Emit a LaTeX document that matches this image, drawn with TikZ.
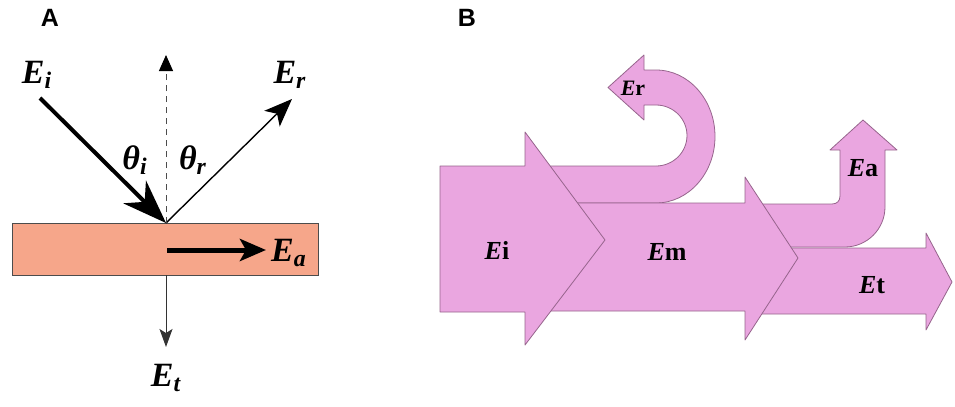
\documentclass[tikz,border=0pt]{standalone}
\usepackage{fontspec}
\setmainfont{Liberation Serif}
\newfontfamily\panelfont{Liberation Sans}
\usetikzlibrary{arrows.meta}
\definecolor{slabfill}{RGB}{246,166,138}
\definecolor{flowfill}{RGB}{234,166,224}
\definecolor{flowline}{RGB}{150,100,140}

\begin{document}
\begin{tikzpicture}[x=0.5pt,y=-0.5pt,
  panel/.style={font=\panelfont\bfseries\fontsize{12.5}{14}\selectfont,inner sep=0pt},
  lab/.style={font=\fontsize{17}{19}\selectfont\bfseries\itshape,inner sep=0pt},
  flow/.style={fill=flowfill,draw=flowline,line width=0.4pt,line join=round},
  flowlab/.style={font=\fontsize{13}{15}\selectfont\bfseries,inner sep=0pt}]
\useasboundingbox (0,0) rectangle (955,407);
% panel A
\node[panel] (labA) at (50,18) {A};
\draw[draw=black!70,fill=slabfill,line width=0.5pt] (12,223) rectangle (318,275);
\coordinate (hit) at (166,223);
\coordinate (inc) at (40,98);
\coordinate (refl) at (292,99);
\coordinate (norm) at (166,55);
\coordinate (absS) at (167,250);
\coordinate (absE) at (266,250);
\coordinate (trS) at (166,275);
\coordinate (trE) at (166,347);
\draw[-{Stealth[length=22pt,width=16pt,inset=7pt]},line width=2pt] (inc) -- (hit);
\draw[-{Stealth[length=14pt,width=11pt,inset=3.5pt]},line width=0.7pt] (hit) -- (refl);
\draw[black!70,line width=0.5pt,dash pattern=on 3pt off 2.5pt,-{Triangle[length=8pt,width=7pt,black]}] (hit) -- (norm);
\draw[-{Stealth[length=13pt,width=11pt,inset=3pt]},line width=2.5pt] (absS) -- (absE);
\draw[black!80,line width=0.5pt,-{Stealth[length=9pt,width=6.5pt,inset=2pt]}] (trS) -- (trE);
\node[lab] (Ei) at (37,75) {E\textsubscript{i}};
\node[lab] (Er) at (290,75) {E\textsubscript{r}};
\node[lab] (thi) at (135,160) {θ\textsubscript{i}};
\node[lab] (thr) at (193,160) {θ\textsubscript{r}};
\node[lab] (Ea) at (289,253) {E\textsubscript{a}};
\node[lab] (Et) at (166,378) {E\textsubscript{t}};
% panel B
\node[panel] (labB) at (467,18) {B};
\draw[flow] (752,248) -- (926,248) -- (926,233) -- (952,282) -- (926,330) -- (926,314) -- (752,314) -- cycle;
\draw[flow] (700,247) -- (845,247) .. controls (867,247) and (885,229) .. (885,207)
  -- (885,150) -- (897,150) -- (863,120) -- (830,150) -- (840,150) -- (840,196)
  .. controls (840,201) and (837,204) .. (832,204) -- (700,204) -- cycle;
\draw[flow] (530,166) -- (656,166) .. controls (673,166) and (687,152.4) .. (687,135.5)
  .. controls (687,118.6) and (673,105) .. (656,105) -- (644,105) -- (644,120) -- (608,87.5)
  -- (644,55) -- (644,70) -- (656,70) .. controls (688.6,70) and (715,99.8) .. (715,136.5)
  .. controls (715,173.2) and (688.6,203) .. (656,203) -- (530,203) -- cycle;
\draw[flow] (530,203) -- (745,203) -- (745,177) -- (798,258) -- (745,340) -- (745,311) -- (530,311) -- cycle;
\draw[flow] (440,166) -- (525,166) -- (525,132) -- (605,240) -- (525,345) -- (525,312) -- (440,312) -- cycle;
\node[flowlab] (fEi) at (497,250) {\textit{E}i};
\node[flowlab] (fEm) at (667,252) {\textit{E}m};
\node[flowlab] (fEt) at (872,285) {\textit{E}t};
\node[flowlab] (fEa) at (863,168) {\textit{E}a};
\node[flowlab,font=\fontsize{11}{12}\selectfont\bfseries] (fEr) at (633,88) {\textit{E}r};
\end{tikzpicture}
\end{document}
